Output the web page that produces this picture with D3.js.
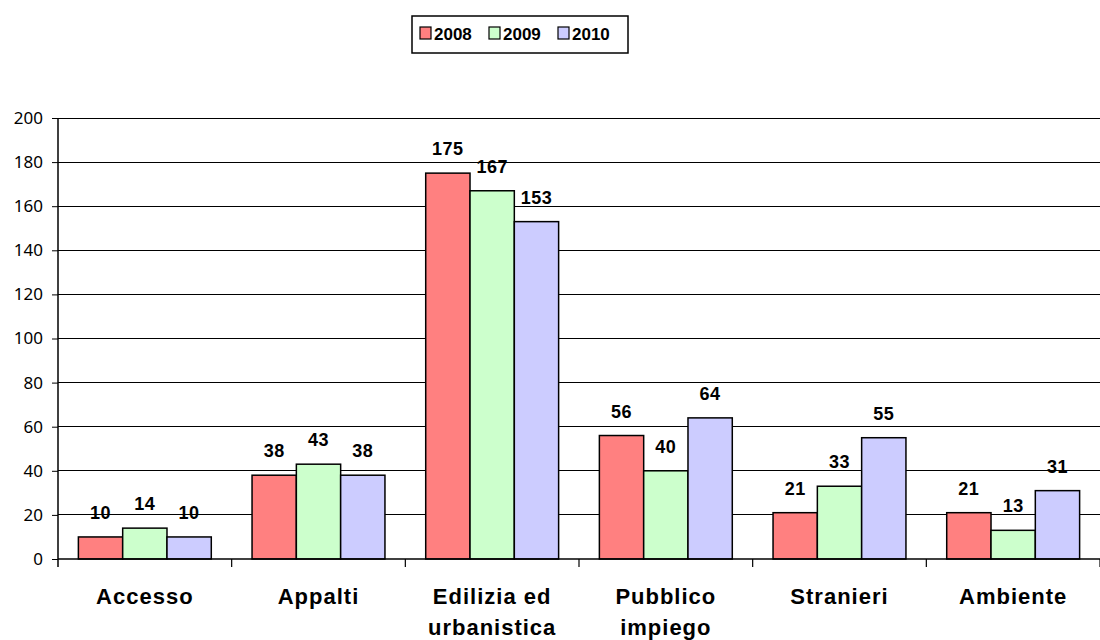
<!DOCTYPE html>
<html><head><meta charset="utf-8">
<script src="https://cdn.jsdelivr.net/npm/d3@7"></script>
<style>body{margin:0;background:#fff}</style>
</head><body>
<svg id="c" width="1100" height="640"></svg>
<script>
const categories = ["Accesso","Appalti","Edilizia ed urbanistica","Pubblico impiego","Stranieri","Ambiente"];
const categoryLines = [["Accesso"],["Appalti"],["Edilizia ed","urbanistica"],["Pubblico","impiego"],["Stranieri"],["Ambiente"]];
const seriesNames = ["2008","2009","2010"];
const values2008 = [10,38,175,56,21,21];
const values2009 = [14,43,167,40,33,13];
const values2010 = [10,38,153,64,55,31];
const yTicks = [0,20,40,60,80,100,120,140,160,180,200];
const colors = ["#FF8080","#CCFFCC","#CCCCFF"];

(function(){
const series = [values2008, values2009, values2010];
const svg = d3.select("#c");
const pl = 58, pr = 1100, pt = 118, pb = 559;

const x = d3.scaleBand().domain(categories).range([pl, pr]).paddingInner(0).paddingOuter(0);
const xs = d3.scaleBand().domain(seriesNames).range([0, x.bandwidth()]).paddingInner(0).paddingOuter(0.46);
const y = d3.scaleLinear().domain([0,200]).range([pb, pt]);

// gridlines
svg.append("g").selectAll("line").data(yTicks.filter(d=>d>0)).join("line")
  .attr("x1", pl).attr("x2", pr).attr("y1", d=>y(d)).attr("y2", d=>y(d))
  .attr("stroke", "#000").attr("stroke-width", 1).attr("shape-rendering","crispEdges");

// y axis
const ya = svg.append("g").attr("transform", `translate(${pl},0)`)
  .call(d3.axisLeft(y).tickValues(yTicks).tickSize(6).tickPadding(9));
ya.select(".domain").remove();
ya.append("line").attr("x1",0).attr("x2",0).attr("y1",y(200)).attr("y2",y(0)+8).attr("stroke","#000").attr("stroke-width",1.5);
ya.selectAll(".tick line").attr("stroke","#000");
ya.selectAll("text").attr("font-family","'Noto Sans',sans-serif").attr("font-size",17).attr("fill","#000");

// bars
series.forEach((vals, si) => {
  svg.append("g").selectAll("rect").data(vals).join("rect")
    .attr("x", (d,i)=>x(categories[i]) + xs(seriesNames[si]))
    .attr("width", xs.bandwidth())
    .attr("y", d=>y(d))
    .attr("height", d=>y(0)-y(d))
    .attr("fill", colors[si]).attr("stroke","#000").attr("stroke-width",1.5);
  svg.append("g").selectAll("text").data(vals).join("text")
    .attr("x", (d,i)=>x(categories[i]) + xs(seriesNames[si]) + xs.bandwidth()/2)
    .attr("y", d=>y(d) - 18)
    .attr("text-anchor","middle")
    .attr("font-family","'Liberation Sans',Arial,sans-serif")
    .attr("font-weight","bold").attr("font-size",18).attr("letter-spacing",0.5).attr("fill","#000")
    .text(d=>d);
});

// x axis
const xa = svg.append("g").attr("transform", `translate(0,${pb})`);
xa.append("line").attr("x1", pl).attr("x2", pr).attr("stroke","#000").attr("stroke-width",1.5);
const bounds = categories.map(c=>x(c)).slice(1).concat([pr]);
xa.selectAll("line.tk").data(bounds).join("line").attr("class","tk")
  .attr("x1",d=>d).attr("x2",d=>d).attr("y1",0).attr("y2",8).attr("stroke","#000").attr("stroke-width",1.2);

// category labels
categories.forEach((c,i)=>{
  const t = svg.append("text")
    .attr("x", x(c) + x.bandwidth()/2)
    .attr("y", 604)
    .attr("text-anchor","middle")
    .attr("font-family","'Liberation Sans',Arial,sans-serif")
    .attr("font-weight","bold").attr("font-size",22).attr("letter-spacing",1).attr("fill","#000");
  categoryLines[i].forEach((ln,j)=>{
    t.append("tspan").attr("x", x(c) + x.bandwidth()/2).attr("dy", j===0?0:31).text(ln);
  });
});

// legend
const lg = svg.append("g");
lg.append("rect").attr("x",412).attr("y",16).attr("width",216).attr("height",37)
  .attr("fill","#fff").attr("stroke","#000").attr("stroke-width",1.5);
const lx = [420, 489, 558];
seriesNames.forEach((s,i)=>{
  lg.append("rect").attr("x",lx[i]).attr("y",27).attr("width",11).attr("height",12)
    .attr("fill",colors[i]).attr("stroke","#000").attr("stroke-width",1.2);
  lg.append("text").attr("x",lx[i]+14).attr("y",40)
    .attr("font-family","'Liberation Sans',Arial,sans-serif")
    .attr("font-weight","bold").attr("font-size",17).attr("fill","#000").text(s);
});
})();
</script>
</body></html>
